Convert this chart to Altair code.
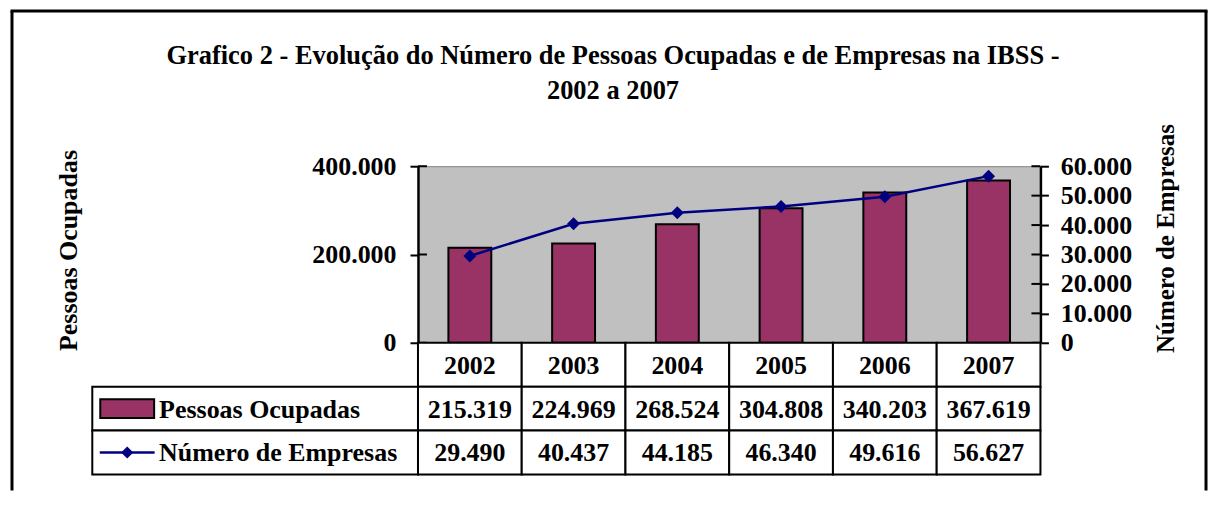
import altair as alt
import pandas as pd

# ---- data -------------------------------------------------------------
anos = ["2002", "2003", "2004", "2005", "2006", "2007"]
pessoas = [215319, 224969, 268524, 304808, 340203, 367619]
empresas = [29490, 40437, 44185, 46340, 49616, 56627]
serie_pessoas = "Pessoas Ocupadas"
serie_empresas = "Número de Empresas"
titulo = ["Grafico 2 - Evolução do Número de Pessoas Ocupadas e de Empresas na IBSS -",
          "2002 a 2007"]
ticks_esq = [0, 200000, 400000]
ticks_dir = [0, 10000, 20000, 30000, 40000, 50000, 60000]

FONT = "Liberation Serif"
BAR = "#993366"
LINE = "#000080"
W, H, HT = 624, 177, 132
DOM_ESQ = [0, 400000]
DOM_DIR = [0, 60000]


def fmt(v):
    return f"{v:,}".replace(",", ".")


df = pd.DataFrame({"ano": anos, "pessoas": pessoas, "empresas": empresas})
one = pd.DataFrame({"k": [0]})

x_enc = alt.X("ano:O", scale=alt.Scale(domain=anos, paddingInner=0, paddingOuter=0), axis=None)

axis_common = dict(labelFont=FONT, labelFontSize=26, labelFontWeight="bold", labelColor="black",
                   labelOverlap=False, labelBound=False, labelFlush=False,
                   tickSize=8, tickWidth=2, tickColor="black", domainColor="black", domainWidth=2.5,
                   grid=False, titleFont=FONT, titleFontWeight="bold", titleColor="black",
                   titleAngle=270, titleAlign="center", titleBaseline="middle", format=",d")

bars = alt.Chart(df).mark_bar(size=43, color=BAR, stroke="black", strokeWidth=2).encode(
    x=x_enc,
    y=alt.Y("pessoas:Q", scale=alt.Scale(domain=DOM_ESQ, nice=False),
            axis=alt.Axis(orient="left", values=ticks_esq, labelPadding=14, title=serie_pessoas,
                          titleFontSize=26, titleX=-350.5, titleY=84, **axis_common)),
)
inner_left = alt.Chart(pd.DataFrame({"v": ticks_esq})).mark_rule(color="black", strokeWidth=2).encode(
    y=alt.Y("v:Q", scale=alt.Scale(domain=DOM_ESQ, nice=False), axis=None),
    x=alt.value(0), x2=alt.value(9))

line = alt.Chart(df).mark_line(color=LINE, strokeWidth=2.5).encode(
    x=x_enc,
    y=alt.Y("empresas:Q", scale=alt.Scale(domain=DOM_DIR, nice=False),
            axis=alt.Axis(orient="right", values=ticks_dir, labelPadding=12, title=serie_empresas,
                          titleFontSize=25, titleX=125.5, titleY=72, **axis_common)),
)
pts = alt.Chart(df).mark_point(shape="diamond", filled=True, size=170, color=LINE, opacity=1).encode(
    x=x_enc, y=alt.Y("empresas:Q", scale=alt.Scale(domain=DOM_DIR, nice=False), axis=None))
inner_right = alt.Chart(pd.DataFrame({"v": ticks_dir})).mark_rule(color="black", strokeWidth=2).encode(
    y=alt.Y("v:Q", scale=alt.Scale(domain=DOM_DIR, nice=False), axis=None),
    x=alt.value(W - 9), x2=alt.value(W))

frame_l = alt.Chart(one).mark_rule(color="black", strokeWidth=3).encode(
    x=alt.value(-407), y=alt.value(-155.5), y2=alt.value(325))
frame_t = alt.Chart(one).mark_rule(color="black", strokeWidth=3).encode(
    x=alt.value(-408.5), x2=alt.value(791.5), y=alt.value(-155.5))
frame_r = alt.Chart(one).mark_rule(color="black", strokeWidth=3).encode(
    x=alt.value(790), y=alt.value(-155.5), y2=alt.value(325))
title_mark = alt.Chart(one).mark_text(
    text=titulo, font=FONT, fontSize=26.5, fontWeight="bold", align="center",
    baseline="top", lineHeight=35, color="black").encode(x=alt.value(195.5), y=alt.value(-123))

top = alt.layer(
    bars, line, inner_left, inner_right, pts, frame_l, frame_t, frame_r, title_mark,
).resolve_scale(y="independent").properties(
    width=W, height=H, view=alt.ViewBackground(fill="#C0C0C0", stroke="#808080", strokeWidth=1))

# ---- data table --------------------------------------------------------
linhas = ["Ano", serie_pessoas, serie_empresas]
cells = pd.DataFrame(
    [{"ano": a, "linha": "Ano", "texto": a} for a in anos]
    + [{"ano": a, "linha": serie_pessoas, "texto": fmt(v)} for a, v in zip(anos, pessoas)]
    + [{"ano": a, "linha": serie_empresas, "texto": fmt(v)} for a, v in zip(anos, empresas)]
)
leg = pd.DataFrame({"linha": [serie_pessoas, serie_empresas]})
y_tab = alt.Y("linha:N", scale=alt.Scale(domain=linhas, paddingInner=0, paddingOuter=0), axis=None)
x_tab = alt.X("ano:O", scale=alt.Scale(domain=anos, paddingInner=0, paddingOuter=0), axis=None)

cell_rect = alt.Chart(cells).mark_rect(fill="white", stroke="black", strokeWidth=2).encode(x=x_tab, y=y_tab)
cell_text = alt.Chart(cells).mark_text(font=FONT, fontSize=26, fontWeight="bold", color="black", dy=1).encode(
    x=x_tab, y=y_tab, text="texto:N")
leg_rect = alt.Chart(leg).mark_rect(fill="white", stroke="black", strokeWidth=2).encode(
    x=alt.value(-326.5), x2=alt.value(0), y=y_tab)
leg_text = alt.Chart(leg).mark_text(font=FONT, fontSize=26, fontWeight="bold", color="black",
                                    align="left", dy=1).encode(x=alt.value(-259.5), y=y_tab, text="linha:N")
sw = alt.Chart(leg).transform_filter(alt.datum.linha == serie_pessoas).mark_bar(
    height=19, color=BAR, stroke="black", strokeWidth=2).encode(
    x=alt.value(-318.5), x2=alt.value(-264.5), y=y_tab)
lg_line = alt.Chart(leg).transform_filter(alt.datum.linha == serie_empresas).mark_rule(
    color=LINE, strokeWidth=2.5).encode(x=alt.value(-319), x2=alt.value(-264), y=y_tab)
lg_pt = alt.Chart(leg).transform_filter(alt.datum.linha == serie_empresas).mark_point(
    shape="diamond", filled=True, size=150, color=LINE, opacity=1).encode(x=alt.value(-291.5), y=y_tab)

bottom = alt.layer(cell_rect, cell_text, leg_rect, leg_text, sw, lg_line, lg_pt).properties(
    width=W, height=HT)

chart = alt.vconcat(top, bottom, spacing=0, bounds="flush").properties(
    padding=0, background="white").configure_view(strokeWidth=0).configure(
    locale={"number": {"decimal": ",", "thousands": ".", "grouping": [3], "currency": ["R$ ", ""]}})

chart.save("out.html", embed_options={"renderer": "svg", "actions": False})
